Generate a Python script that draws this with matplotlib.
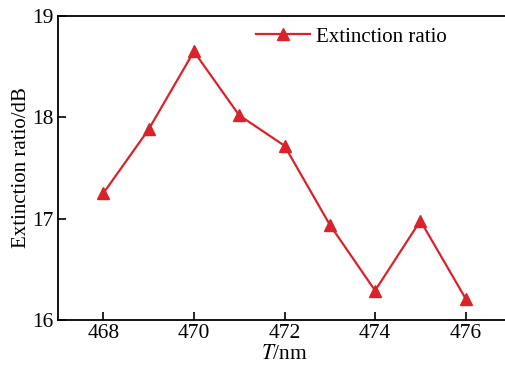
import matplotlib
matplotlib.use("Agg")
import matplotlib.pyplot as plt

# Data
wavelength = [468, 469, 470, 471, 472, 473, 474, 475, 476]
extinction = [17.25, 17.88, 18.65, 18.02, 17.72, 16.94, 16.29, 16.98, 16.21]
x_ticks = [468, 470, 472, 474, 476]
y_ticks = [16, 17, 18, 19]

plt.rcParams["font.family"] = ["Liberation Serif", "DejaVu Serif"]
plt.rcParams["mathtext.fontset"] = "stix"

fig = plt.figure(figsize=(5.05, 3.67), dpi=100)
# Axes runs slightly past the right edge of the picture, as in the reference
ax = fig.add_axes([58 / 505, 1 - 320 / 367, (511 - 58) / 505, (320 - 16) / 367])

ax.plot(wavelength, extinction, color="#d9232a", linewidth=1.6,
        marker="^", markersize=8, label="Extinction ratio")

ax.set_xlim(467, 477)
ax.set_ylim(16, 19)
ax.set_xticks(x_ticks)
ax.set_yticks(y_ticks)
ax.tick_params(direction="in", length=6, width=1.2, labelsize=15.5, pad=3)
ax.spines["right"].set_visible(False)
for side in ("left", "bottom", "top"):
    ax.spines[side].set_linewidth(1.3)

ax.set_xlabel("$T$/nm", fontsize=15.5, labelpad=1)
ax.set_ylabel("Extinction ratio/dB", fontsize=15, labelpad=1)

ax.legend(loc="upper left", bbox_to_anchor=(0.395, 1.025), frameon=False,
          fontsize=15, handlelength=2.6, handletextpad=0.3)

fig.savefig("out.png", dpi=100)
